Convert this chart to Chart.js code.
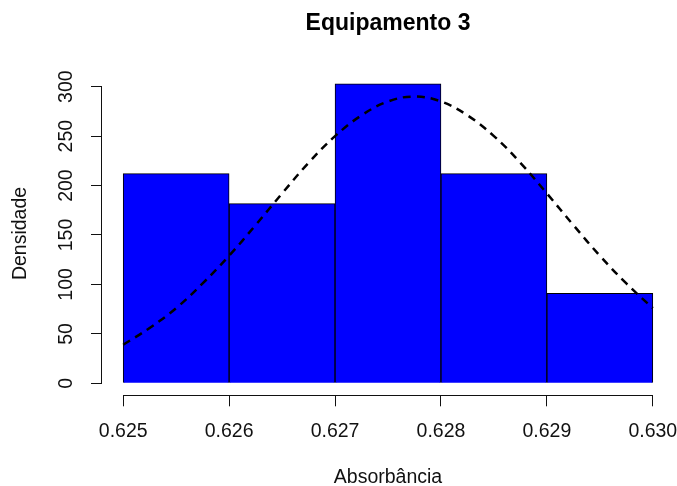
<!DOCTYPE html>
<html>
<head>
<meta charset="utf-8">
<script src="https://cdn.jsdelivr.net/npm/chart.js@4/dist/chart.umd.min.js"></script>
<style>
  html,body{margin:0;padding:0;background:#fff;}
  #wrap{width:677px;height:486px;}
</style>
</head>
<body>
<div id="wrap"><canvas id="hist" width="677" height="486"></canvas></div>
<script>
const $ = sel => document.querySelector(sel);

/* ============ DATA ============== */
const binMids   = [0.6255, 0.6265, 0.6275, 0.6285, 0.6295];
const densities = [212.1, 181.8, 303.0, 212.1, 90.9];
const curveX = [0.62500,0.62525,0.62550,0.62575,0.62600,0.62625,0.62650,0.62675,0.62700,0.62725,0.62750,
                0.62775,0.62800,0.62825,0.62850,0.62875,0.62900,0.62925,0.62950,0.62975,0.63000];
const curveY = [39,56,76,101,129,160,192,223,250,271,285,290,285,271,250,223,192,160,129,101,76];
const xTicks = [0.625, 0.626, 0.627, 0.628, 0.629, 0.630];
const yTicks = [0, 50, 100, 150, 200, 250, 300];

const ink = "#111";
const font = {family:"Arial, 'Liberation Sans', sans-serif", size:19.5};

/* ============ R-STYLE AXIS LINES ============== */
const axisLines = {
  id:"axisLines",
  afterDraw(chart){
    const {ctx, chartArea:a, scales:{x, y}} = chart;
    ctx.save();
    ctx.strokeStyle = ink;
    ctx.lineWidth = 1;
    ctx.beginPath();
    const by = Math.round(a.bottom) + 0.5, lx = Math.round(a.left) - 0.5;
    ctx.moveTo(x.getPixelForValue(xTicks[0]), by);
    ctx.lineTo(x.getPixelForValue(xTicks[xTicks.length-1]), by);
    ctx.moveTo(lx, y.getPixelForValue(yTicks[0]));
    ctx.lineTo(lx, y.getPixelForValue(yTicks[yTicks.length-1]));
    ctx.stroke();
    ctx.restore();
  }
};

/* ============ CHART ============== */
new Chart($("#hist"), {
  type:"bar",
  data:{
    datasets:[
      {
        type:"line",
        order:0,
        data:curveX.map((v,i)=>({x:v, y:curveY[i]})),
        borderColor:"#000",
        borderWidth:2.5,
        borderDash:[8,6],
        pointRadius:0,
        tension:0.4,
        fill:false
      },
      {
        order:1,
        data:binMids.map((v,i)=>({x:v, y:densities[i]})),
        backgroundColor:"#0000ff",
        borderColor:"#000",
        borderWidth:1,
        barPercentage:1,
        categoryPercentage:1
      }
    ]
  },
  options:{
    responsive:false,
    animation:false,
    layout:{padding:{top:0, right:3, bottom:0, left:0}},
    plugins:{
      legend:{display:false},
      tooltip:{enabled:false},
      title:{
        display:true,
        fullSize:false,
        text:"Equipamento 3",
        color:"#000",
        font:{family:font.family, size:23, weight:"bold"},
        padding:{top:10.3, bottom:33.8}
      }
    },
    scales:{
      x:{
        type:"linear",
        offset:false,
        min:0.6248, max:0.6302,
        afterBuildTicks: s => { s.ticks = xTicks.map(v=>({value:v})); },
        afterFit: s => { s.height = 90.7; s.paddingLeft = 0; s.paddingRight = 0; },
        border:{display:false},
        grid:{offset:false, drawOnChartArea:false, drawTicks:true, tickLength:11, color:ink, lineWidth:1},
        ticks:{color:ink, font, padding:14, maxRotation:0, callback:v=>v.toFixed(3)},
        title:{display:true, text:"Absorbância", color:ink,
               font:{...font, lineHeight:1}, padding:{top:0, bottom:-1.5}}
      },
      y:{
        min:-12.12, max:315.15,
        afterBuildTicks: s => { s.ticks = yTicks.map(v=>({value:v})); },
        afterFit: s => { s.width = 102; s.paddingTop = 0; s.paddingBottom = 0; },
        border:{display:false},
        grid:{drawOnChartArea:false, drawTicks:true, tickLength:11, color:ink, lineWidth:1},
        ticks:{color:ink, font, padding:8.5, minRotation:90, maxRotation:90, crossAlign:"center"},
        title:{display:true, text:"Densidade", color:ink,
               font:{...font, lineHeight:1}, padding:{top:11, bottom:0}}
      }
    }
  },
  plugins:[axisLines]
});
</script>
</body>
</html>
